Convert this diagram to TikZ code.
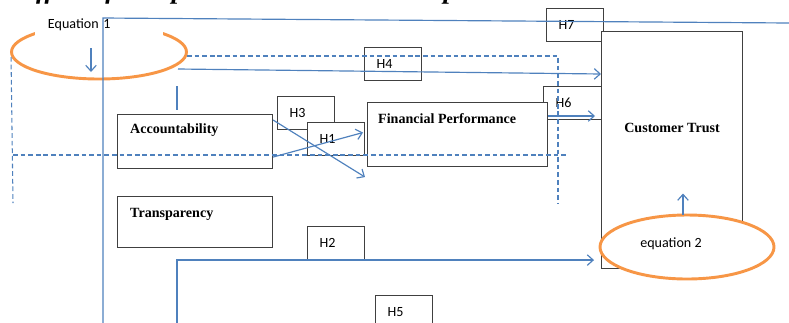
\documentclass[tikz,border=0pt]{standalone}
\usepackage{fontspec}
\setmainfont{Liberation Serif}
\newfontfamily\calib{Carlito}
\usepackage{tikz}
\usetikzlibrary{calc,arrows.meta,positioning,shapes.geometric}

\definecolor{lineblue}{RGB}{79,129,189}
\definecolor{eqorange}{RGB}{247,150,70}
\definecolor{boxgray}{RGB}{64,64,64}

\tikzset{
  varbox/.style={draw=boxgray, line width=0.9pt, fill=white, anchor=north west, inner sep=0pt},
  hbox/.style={draw=boxgray, line width=0.9pt, fill=white, anchor=north west,
    minimum height=0.99cm, text width=0.99cm, inner xsep=0.36cm, inner ysep=0pt,
    align=left, font=\calib\fontsize{12}{14}\selectfont},
  vlabel/.style={font=\bfseries\fontsize{12}{14}\selectfont, inner sep=0pt},
  eqlabel/.style={font=\calib\fontsize{12}{14}\selectfont, inner sep=0pt},
  eqell/.style={ellipse, draw=eqorange, line width=2.5pt, inner sep=0pt},
  link/.style={draw=lineblue, line width=1pt},
  flow/.style={link, -{Straight Barb[length=5pt,width=9pt]}},
  dlink/.style={draw=lineblue, line width=0.9pt, dash pattern=on 4pt off 2.5pt}
}

\begin{document}
\begin{tikzpicture}[x=0.03cm,y=-0.03cm]
        \useasboundingbox (0,0) rectangle (789,322);

        % caption, cut by the page top
        \begin{scope}
        \clip (0,0) rectangle (789,322);
        \node[anchor=base west, inner sep=0pt, font=\fontsize{23}{27}\selectfont\bfseries\itshape]
          (capt) at (18,-1.5) {Effect of Independent Variables on Dependent Variables};
        \end{scope}

        %equation 1
        \node[eqell, minimum width=5.25cm, minimum height=1.62cm] (eqA) at (99,52) {};
        \node[eqlabel, fill=white, minimum width=3.84cm, minimum height=0.78cm,
          text width=3.06cm, inner xsep=0.39cm, align=left] (eqAtxt) at (99,25) {Equation 1};

        %boxes
        \node[hbox] (h7) at (546,8) {H7};
        \node[varbox, minimum width=4.23cm, minimum height=7.11cm] (trust) at (601,31) {};
        \node[vlabel, below=2.75cm of trust.north] (trusttxt) {Customer Trust};

        \node[hbox] (h4) at (364,47) {H4};
        \node[hbox, text width=1.02cm] (h6) at (543,86) {H6};
        \node[varbox, minimum width=5.4cm, minimum height=1.92cm] (fin) at (367,102) {};
        \node[vlabel, below right=0.33cm and 0.33cm of fin.north west] (fintxt) {Financial Performance};

        \node[hbox] (h3) at (277,96) {H3};
        \node[hbox] (h1) at (307,122) {H1};

        \node[varbox, minimum width=4.65cm, minimum height=1.62cm] (acc) at (117,114) {};
        \node[vlabel, below right=0.3cm and 0.39cm of acc.north west] (acctxt) {Accountability};
        \node[varbox, minimum width=4.65cm, minimum height=1.53cm] (trans) at (117,196) {};
        \node[vlabel, below right=0.36cm and 0.39cm of trans.north west] (transtxt) {Transparency};

        \node[hbox] (h2) at (307,226) {H2};
        \node[hbox] (h5) at (375,295) {H5};

        %equation 2
        \node[eqell, fill=white, minimum width=5.22cm, minimum height=1.92cm] (eqB) at (687,247) {};
        \node[eqlabel] (eqBtxt) at (671,244) {equation 2};

        %lines
        \coordinate (tl) at (103,18);
        \coordinate (bl) at (103,330);
        \coordinate (tr) at (789,23);
        \draw[link] (bl) -- (tl) -- (tr);

        \draw[flow] ($(eqA.center)+(-8,-4)$) -- ($(eqA.center)+(-8,20)$);

        \coordinate (s4) at (178,69);
        \draw[flow] (s4) -- ($(trust.north west)+(0,43)$);
        \draw[link] (177,86) -- (177,110);

        \draw[flow] ($(acc.north east)+(0,6)$) -- ($(fin.south west)+(-2,10)$);
        \draw[flow] ($(acc.south east)+(0,-12)$) -- ($(fin.west)+(-4,-2)$);
        \draw[flow] ($(fin.north east)+(0,14)$) -- ($(trust.north west)+(-6,85)$);

        \coordinate (b1) at (177,330);
        \draw[flow] (b1) |- ($(trust.south west)+(-7,-9)$);

        \draw[flow] ($(eqB.north)+(-4,1)$) -- ($(eqB.north)+(-4,-20)$);

        %dashed
        \coordinate (dtr) at (558,56);
        \coordinate (dbr) at (558,203);
        \coordinate (dbl) at (13,203);
        \draw[dlink] ($(eqA.east)+(-1,4)$) -- (dtr) -- (dbr);
        \draw[dlink] ($(eqA.west)+(1,5)$) -- (dbl);
        \draw[dlink] (13,155) -- (568,155);
\end{tikzpicture}
\end{document}
